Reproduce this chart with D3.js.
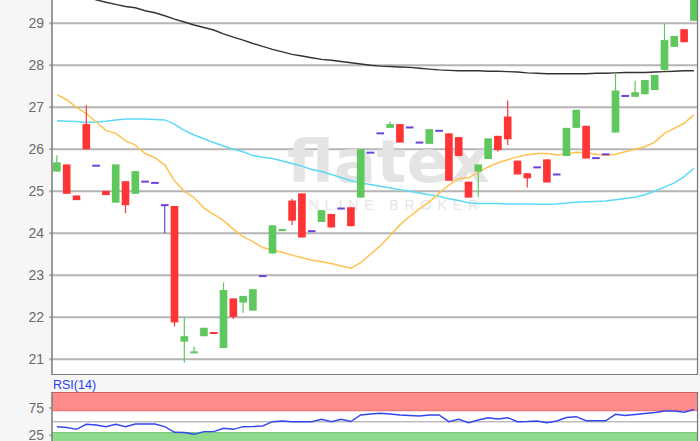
<!DOCTYPE html>
<html>
<head>
<meta charset="utf-8">
<script src="https://cdn.jsdelivr.net/npm/d3@7"></script>
<style>
  body { margin: 0; background: #f6f6f6; }
  svg { display: block; font-family: 'Liberation Sans', Arial, sans-serif; }
</style>
</head>
<body>
<div id="chart"></div>
<script>
/* globals d3 */

// daily candles, oldest first
let opens = [25.47, 25.64, 24.9, 26.6, 25.61, 25.01, 24.73, 25.24, 24.94, 25.23, 25.2, 24.67, 24.65, 21.42, 21.18, 21.55,
  21.65, 21.27, 22.45, 22.35, 22.16, 22.98, 23.52, 24.06, 24.78, 24.95, 24.05, 24.27, 24.46, 24.59, 24.62, 24.85,
  25.92, 26.38, 26.51, 26.6, 26.52, 26.16, 26.13, 26.44, 26.38, 26.29, 25.23, 25.47, 25.77, 26.32, 26.78, 25.73,
  25.43, 25.57, 25.76, 25.4, 25.84, 26.51, 26.56, 25.79, 25.88, 26.4, 27.27, 27.25, 27.31, 27.41, 27.89, 28.44,
  28.86, 29.06]
let highs = [25.86, 25.64, 24.9, 27.05, 25.61, 25.01, 25.64, 25.24, 25.48, 25.23, 25.2, 24.67, 24.65, 22.01, 21.3, 21.75,
  21.65, 22.83, 22.45, 22.51, 22.67, 22.98, 24.19, 24.1, 24.82, 24.95, 24.05, 24.55, 24.46, 24.59, 24.62, 26.0,
  25.92, 26.38, 26.66, 26.6, 26.52, 26.16, 26.48, 26.44, 26.38, 26.29, 25.23, 25.64, 26.26, 26.32, 27.16, 25.73,
  25.43, 25.57, 25.76, 25.4, 26.51, 26.94, 26.56, 25.79, 25.88, 27.82, 27.27, 27.63, 27.65, 27.77, 29.0, 28.7,
  28.86, 29.7]
let lows = [25.47, 24.94, 24.79, 26.0, 25.61, 24.91, 24.73, 24.48, 24.94, 25.23, 25.2, 24.0, 21.78, 20.92, 21.14, 21.55,
  21.6, 21.27, 21.96, 22.11, 22.16, 22.98, 23.52, 24.06, 24.2, 23.9, 24.05, 24.27, 24.14, 24.59, 24.17, 24.85,
  25.92, 26.38, 26.51, 26.16, 26.52, 26.16, 26.13, 26.44, 25.25, 25.84, 24.85, 24.87, 25.77, 25.94, 26.1, 25.4,
  25.09, 25.57, 25.21, 25.4, 25.84, 26.51, 25.78, 25.79, 25.88, 26.4, 27.27, 27.25, 27.31, 27.41, 27.87, 28.44,
  28.55, 29.06]
let closes = [25.69, 24.94, 24.79, 26.0, 25.61, 24.91, 25.64, 24.67, 25.48, 25.23, 25.2, 24.67, 21.88, 21.55, 21.19, 21.75,
  21.61, 22.65, 22.01, 22.51, 22.67, 22.98, 24.19, 24.1, 24.3, 23.9, 24.05, 24.55, 24.14, 24.59, 24.17, 26.0,
  25.92, 26.38, 26.6, 26.16, 26.52, 26.16, 26.48, 26.44, 25.25, 25.84, 24.85, 25.64, 26.26, 25.98, 26.24, 25.4,
  25.31, 25.57, 25.21, 25.4, 26.51, 26.94, 25.78, 25.79, 25.88, 27.4, 27.27, 27.36, 27.65, 27.77, 28.6, 28.7,
  28.55, 29.7]

// moving averages (long, mid, short)
let maLong = [29.85, 29.78, 29.7, 29.62, 29.56, 29.5, 29.45, 29.4, 29.37, 29.3, 29.25, 29.18, 29.1, 29.03, 28.96, 28.9,
  28.84, 28.75, 28.67, 28.6, 28.52, 28.45, 28.38, 28.32, 28.26, 28.22, 28.18, 28.14, 28.12, 28.09, 28.06, 28.03,
  28.0, 27.98, 27.97, 27.96, 27.95, 27.93, 27.91, 27.89, 27.88, 27.87, 27.87, 27.87, 27.86, 27.86, 27.85, 27.84,
  27.82, 27.81, 27.8, 27.8, 27.8, 27.8, 27.8, 27.81, 27.81, 27.82, 27.83, 27.83, 27.83, 27.84, 27.85, 27.86,
  27.87, 27.87]
let maMid = [26.68, 26.67, 26.66, 26.64, 26.65, 26.67, 26.7, 26.72, 26.72, 26.72, 26.71, 26.7, 26.6, 26.45, 26.34, 26.25,
  26.16, 26.08, 26.0, 25.94, 25.85, 25.81, 25.78, 25.72, 25.66, 25.6, 25.52, 25.47, 25.4, 25.33, 25.25, 25.2,
  25.16, 25.12, 25.08, 25.04, 25.0, 24.96, 24.92, 24.88, 24.82, 24.78, 24.73, 24.71, 24.71, 24.71, 24.7, 24.7,
  24.7, 24.69, 24.69, 24.7, 24.72, 24.74, 24.75, 24.76, 24.77, 24.8, 24.83, 24.86, 24.92, 25.0, 25.1, 25.2,
  25.35, 25.55]
let maShort = [27.3, 27.18, 27.0, 26.85, 26.65, 26.45, 26.38, 26.2, 26.1, 25.9, 25.8, 25.63, 25.25, 25.0, 24.85, 24.6,
  24.45, 24.3, 24.1, 23.92, 23.8, 23.66, 23.6, 23.55, 23.48, 23.42, 23.36, 23.32, 23.28, 23.22, 23.17, 23.3,
  23.5, 23.7, 23.95, 24.2, 24.4, 24.58, 24.75, 24.95, 25.15, 25.3, 25.32, 25.45, 25.58, 25.68, 25.75, 25.82,
  25.87, 25.9, 25.9, 25.87, 25.88, 25.93, 25.92, 25.88, 25.86, 25.88, 25.94, 26.0, 26.06, 26.17, 26.38, 26.5,
  26.62, 26.82]

let rsi = [40.7, 39.4, 36.1, 45.3, 44, 40.9, 45.3, 40.9, 45.8, 45.8, 45.8, 40.9, 30.7, 30.3, 27, 31.8,
  31.8, 38, 36.1, 40.9, 41.2, 42.2, 50, 51.3, 50, 50, 50, 54.4, 50, 54.4, 50.4, 62.2,
  64, 65.3, 64, 62.2, 61.3, 60.4, 62.2, 62.2, 50, 54.4, 48.2, 53.1, 57.3, 54.9, 57.3, 50,
  50.4, 51.3, 48.2, 51.3, 57.7, 59.1, 51.8, 51.8, 51.8, 63.5, 61.3, 63.1, 65, 66.8, 69.5, 69.5,
  67.2, 72.3]

let priceTicks = [21, 22, 23, 24, 25, 26, 27, 28, 29]
let rsiTicks = [25, 75]
let rsiBands = [70, 30]

let width = 700
let height = 441
let left = 52
let right = 697
let mainBottom = 374
let rsiTop = 392

let days = opens.map((d, i) => i)
let candles = days.map((i) => ({ i: i, o: opens[i], h: highs[i], l: lows[i], c: closes[i] }))

let x = d3.scaleBand().domain(days).range([left, left + 9.8 * days.length]).paddingInner(0.22).paddingOuter(0.11)
let y = d3.scaleLinear().domain([21, 29]).range([359.3, 23.3])
let yr = d3.scaleLinear().domain([0, 100]).range([449.1, 394.3])

function cx (i) {
  return x(i) + x.bandwidth() / 2
}

function colorOf (d) {
  if (d.c > d.o) return '#5ec85e'
  if (d.c < d.o) return '#ff3434'
  return '#6d42db'
}

function main () {
  let svg = d3.select('#chart').append('svg').attr('width', width).attr('height', height)

  svg.append('rect').attr('width', width).attr('height', height).attr('fill', '#f6f6f6')

  let defs = svg.append('defs')
  defs.append('clipPath').attr('id', 'mainClip')
    .append('rect').attr('x', left).attr('y', 0).attr('width', right - left).attr('height', mainBottom)
  defs.append('clipPath').attr('id', 'rsiClip')
    .append('rect').attr('x', left).attr('y', rsiTop).attr('width', right - left).attr('height', height - rsiTop)

  drawMain(svg)
  drawRsi(svg)
}

function drawMain (svg) {
  svg.append('rect').attr('x', left).attr('y', 0).attr('width', right - left).attr('height', mainBottom).attr('fill', '#fff')

  // grid + tick labels
  svg.append('g').selectAll('line').data(priceTicks).enter().append('line')
    .attr('x1', left - 3).attr('x2', right)
    .attr('y1', (d) => y(d)).attr('y2', (d) => y(d))
    .attr('stroke', '#b5b5b5').attr('stroke-width', 2)
  svg.append('g').selectAll('text').data(priceTicks).enter().append('text')
    .attr('x', 44).attr('y', (d) => y(d) + 5)
    .attr('text-anchor', 'end').attr('font-size', 14).attr('fill', '#6b6b6b')
    .text((d) => d)

  // watermark
  let wm = svg.append('g').attr('fill', '#e4e4e4')
  wm.append('text').attr('x', 287).attr('y', 182)
    .attr('font-size', 58).attr('font-family', 'DejaVu Sans, sans-serif').attr('font-weight', 700)
    .attr('textLength', 203).attr('lengthAdjust', 'spacingAndGlyphs').text('flatex')
  wm.append('text').attr('x', 292).attr('y', 210)
    .attr('font-size', 14).attr('fill', '#e6e6e6')
    .attr('textLength', 186).attr('lengthAdjust', 'spacing').text('ONLINE BROKER')

  let plot = svg.append('g').attr('clip-path', 'url(#mainClip)')

  let line = d3.line().x((d, i) => cx(i)).y((d) => y(d))
  plot.append('path').datum(maLong).attr('d', line).attr('fill', 'none').attr('stroke', '#333').attr('stroke-width', 1.4)
  plot.append('path').datum(maMid).attr('d', line).attr('fill', 'none').attr('stroke', '#5cd9f7').attr('stroke-width', 1.5)
  plot.append('path').datum(maShort).attr('d', line).attr('fill', 'none').attr('stroke', '#ffc24f').attr('stroke-width', 1.5)

  let candle = plot.append('g').selectAll('g').data(candles).enter().append('g')
  candle.append('line')
    .attr('x1', (d) => cx(d.i)).attr('x2', (d) => cx(d.i))
    .attr('y1', (d) => y(d.h)).attr('y2', (d) => y(d.l))
    .attr('stroke', colorOf).attr('stroke-width', 1.2)
  candle.append('rect')
    .attr('x', (d) => x(d.i)).attr('width', x.bandwidth())
    .attr('y', (d) => y(Math.max(d.o, d.c)) - (d.o === d.c ? 1 : 0))
    .attr('height', (d) => Math.max(2, Math.abs(y(d.o) - y(d.c))))
    .attr('fill', colorOf)

  // frame
  svg.append('line').attr('x1', left).attr('x2', left).attr('y1', 0).attr('y2', mainBottom + 1)
    .attr('stroke', '#7a7a7a').attr('stroke-width', 1.5)
  svg.append('line').attr('x1', left).attr('x2', right + 1).attr('y1', mainBottom + 0.5).attr('y2', mainBottom + 0.5)
    .attr('stroke', '#7a7a7a').attr('stroke-width', 1.2)
  svg.append('line').attr('x1', right + 0.5).attr('x2', right + 0.5).attr('y1', 0).attr('y2', mainBottom + 1)
    .attr('stroke', '#7a7a7a').attr('stroke-width', 1.2)
}

function drawRsi (svg) {
  svg.append('text').attr('x', 53).attr('y', 389).attr('font-size', 12.5).attr('fill', '#2a3cf2').text('RSI(14)')

  svg.append('rect').attr('x', left).attr('y', rsiTop).attr('width', right - left).attr('height', height - rsiTop).attr('fill', '#fff')
  svg.append('rect').attr('x', left).attr('y', rsiTop).attr('width', right - left).attr('height', yr(rsiBands[0]) - rsiTop)
    .attr('fill', '#ff8a8a')
  svg.append('line').attr('x1', left).attr('x2', right).attr('y1', yr(rsiBands[0])).attr('y2', yr(rsiBands[0]))
    .attr('stroke', '#e86a6a').attr('stroke-width', 1)
  svg.append('line').attr('x1', left).attr('x2', right).attr('y1', rsiTop + 0.5).attr('y2', rsiTop + 0.5)
    .attr('stroke', '#c86060').attr('stroke-width', 1)
  svg.append('rect').attr('x', left).attr('y', yr(rsiBands[1])).attr('width', right - left).attr('height', height - yr(rsiBands[1]))
    .attr('fill', '#8edb8e')
  svg.append('line').attr('x1', left).attr('x2', right).attr('y1', yr(rsiBands[1])).attr('y2', yr(rsiBands[1]))
    .attr('stroke', '#6cc46c').attr('stroke-width', 1)
  svg.append('line').attr('x1', left).attr('x2', right).attr('y1', yr(50)).attr('y2', yr(50))
    .attr('stroke', '#bdbdbd').attr('stroke-width', 1.5)

  svg.append('g').selectAll('line').data(rsiTicks).enter().append('line')
    .attr('x1', left - 3).attr('x2', left)
    .attr('y1', (d) => yr(d)).attr('y2', (d) => yr(d))
    .attr('stroke', '#b9b9b9').attr('stroke-width', 2)
  svg.append('g').selectAll('text').data(rsiTicks).enter().append('text')
    .attr('x', 44).attr('y', (d) => yr(d) + 5)
    .attr('text-anchor', 'end').attr('font-size', 14).attr('fill', '#6b6b6b')
    .text((d) => d)

  let line = d3.line().x((d, i) => cx(i)).y((d) => yr(d))
  svg.append('g').attr('clip-path', 'url(#rsiClip)')
    .append('path').datum(rsi).attr('d', line).attr('fill', 'none').attr('stroke', '#3346f0').attr('stroke-width', 1.4)

  svg.append('line').attr('x1', left).attr('x2', left).attr('y1', rsiTop).attr('y2', height)
    .attr('stroke', '#7a7a7a').attr('stroke-width', 1.5)
  svg.append('line').attr('x1', right + 0.5).attr('x2', right + 0.5).attr('y1', rsiTop).attr('y2', height)
    .attr('stroke', '#7a7a7a').attr('stroke-width', 1.2)
}

main()
</script>
</body>
</html>
